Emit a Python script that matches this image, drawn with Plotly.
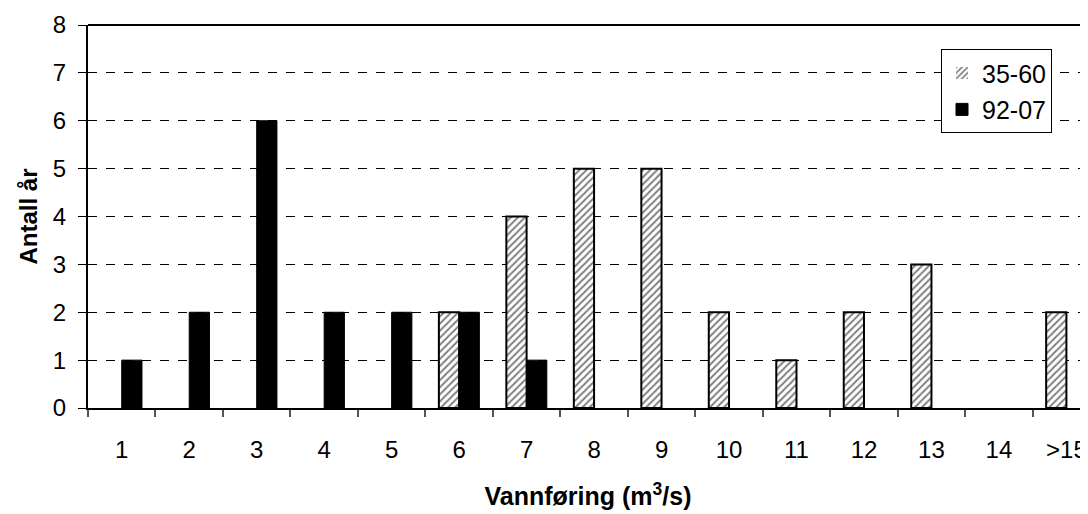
import plotly.graph_objects as go

categories = ["1", "2", "3", "4", "5", "6", "7", "8", "9", "10", "11", "12", "13", "14", ">15"]
series_35_60 = [0, 0, 0, 0, 0, 2, 4, 5, 5, 2, 1, 2, 3, 0, 2]
series_92_07 = [1, 2, 6, 2, 2, 2, 1, 0, 0, 0, 0, 0, 0, 0, 0]
y_ticks = [0, 1, 2, 3, 4, 5, 6, 7, 8]

FONT = "Liberation Sans, Arial, sans-serif"

fig = go.Figure()
fig.add_trace(go.Bar(
    name="35-60", x=categories, y=series_35_60, legendgroup="a",
    marker=dict(color="white",
                line=dict(color="black", width=[2 if v > 0 else 0 for v in series_35_60]),
                pattern=dict(shape="/", fgcolor="black", bgcolor="white", size=5, solidity=0.4)),
))
fig.add_trace(go.Bar(
    name="92-07", x=categories, y=series_92_07, legendgroup="b",
    marker=dict(color="black",
                line=dict(color="black", width=[1 if v > 0 else 0 for v in series_92_07])),
))

# page body has an 8px margin, so the figure is offset by 8px
fig.update_layout(
    width=1080, height=506,
    margin=dict(l=80, r=0, t=17, b=106),
    paper_bgcolor="white", plot_bgcolor="white",
    barmode="group", bargap=0.4, bargroupgap=0,
    font=dict(family=FONT, size=24, color="black"),
    showlegend=True,
    legend=dict(x=0.853, y=0.937, xanchor="left", yanchor="top",
                bgcolor="white", bordercolor="black", borderwidth=1,
                font=dict(size=25), tracegroupgap=1, itemwidth=30),
    shapes=[dict(type="line", xref="paper", yref="paper", x0=0, x1=1, y0=1, y1=1,
                 line=dict(color="black", width=2))],
)
fig.update_xaxes(
    type="category", range=[-0.5, 14.32],
    showgrid=False, showline=True, linecolor="black", linewidth=2,
    ticks="outside", tickson="boundaries", ticklen=7, tickcolor="#555", tickwidth=1.5,
    tickfont=dict(size=24), ticklabelstandoff=19,
    title=dict(text="<b>Vannføring (m<sup>3</sup>/s)</b>", font=dict(size=25), standoff=26),
)
fig.update_yaxes(
    range=[0, 8], tickvals=y_ticks, showgrid=True, gridcolor="black", gridwidth=1,
    griddash="dash", zeroline=False,
    showline=True, linecolor="black", linewidth=2,
    ticks="outside", ticklen=8, tickcolor="black", tickwidth=1,
    tickfont=dict(size=24), ticklabelstandoff=7,
    title=dict(text="<b>Antall år</b>", font=dict(size=24), standoff=8),
)

fig.write_html("out.html")
